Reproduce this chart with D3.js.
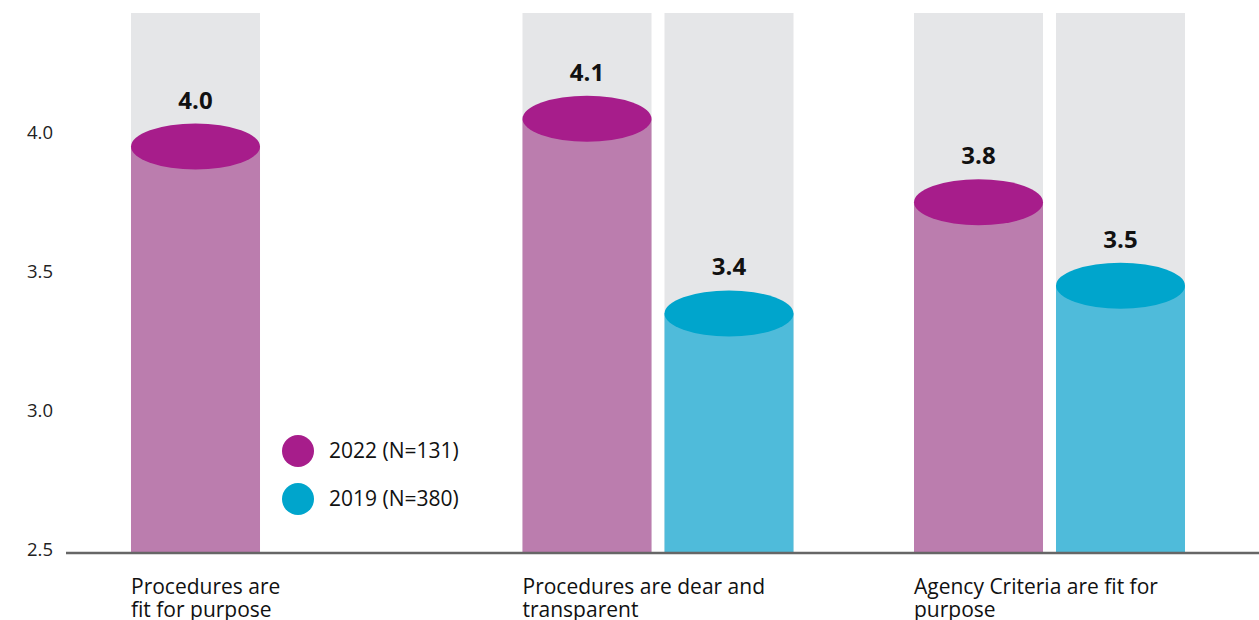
<!DOCTYPE html>
<html>
<head>
<meta charset="utf-8">
<script src="https://cdn.jsdelivr.net/npm/d3@7"></script>
<style>
  html, body { margin: 0; padding: 0; background: #ffffff; }
  svg { display: block; font-family: "Open Sans", "Noto Sans", sans-serif; }
</style>
</head>
<body>
<div id="chart"></div>
<script>
// ---- data ----
const categories = ["Procedures are fit for purpose", "Procedures are dear and transparent", "Agency Criteria are fit for purpose"];
const categoryLines = [["Procedures are", "fit for purpose"], ["Procedures are dear and", "transparent"], ["Agency Criteria are fit for", "purpose"]];
const seriesNames = ["2022 (N=131)", "2019 (N=380)"];
const seriesKeys = ["2022", "2019"];
const values2022 = [3.95, 4.05, 3.75];
const values2019 = [null, 3.35, 3.45];
const labels2022 = ["4.0", "4.1", "3.8"];
const labels2019 = [null, "3.4", "3.5"];
const yTicks = [2.5, 3.0, 3.5, 4.0];
const yMin = 2.5, yMax = 4.43;

// ---- styles ----
const topColors = ["#a71d8b", "#00a5cc"];
const bodyColors = ["#bb7dae", "#4fbbda"];
const bgColor = "#e5e6e8";

const W = 1259, H = 620;
const svg = d3.select("#chart").append("svg").attr("width", W).attr("height", H);

const y = d3.scaleLinear().domain([yMin, yMax]).range([550, 13]);
const axisY = y(yMin) + 3;

const x0 = d3.scaleBand().domain(categories).range([131, 1185]).paddingInner(0.3078).paddingOuter(0);
const x1 = d3.scaleBand().domain(seriesKeys).range([0, x0.bandwidth()]).paddingInner(0.0915).paddingOuter(0);

const rows = [];
categories.forEach((c, i) => {
  [values2022, values2019].forEach((arr, s) => {
    if (arr[i] != null) {
      rows.push({ cat: c, key: seriesKeys[s], s, v: arr[i], label: (s === 0 ? labels2022 : labels2019)[i] });
    }
  });
});

// background columns
svg.append("g").selectAll("rect").data(rows).join("rect")
  .attr("x", d => x0(d.cat) + x1(d.key))
  .attr("y", y(yMax))
  .attr("width", x1.bandwidth())
  .attr("height", axisY - y(yMax))
  .attr("fill", bgColor);

// bar bodies
svg.append("g").selectAll("rect").data(rows).join("rect")
  .attr("x", d => x0(d.cat) + x1(d.key))
  .attr("y", d => y(d.v))
  .attr("width", x1.bandwidth())
  .attr("height", d => axisY - y(d.v))
  .attr("fill", d => bodyColors[d.s]);

// cylinder tops
svg.append("g").selectAll("ellipse").data(rows).join("ellipse")
  .attr("cx", d => x0(d.cat) + x1(d.key) + x1.bandwidth() / 2)
  .attr("cy", d => y(d.v))
  .attr("rx", x1.bandwidth() / 2)
  .attr("ry", 23)
  .attr("fill", d => topColors[d.s]);

// value labels
svg.append("g").selectAll("text").data(rows).join("text")
  .attr("x", d => x0(d.cat) + x1(d.key) + x1.bandwidth() / 2)
  .attr("y", d => y(d.v) - 38)
  .attr("text-anchor", "middle")
  .attr("font-size", 24)
  .attr("font-weight", 700)
  .attr("fill", "#111")
  .text(d => d.label);

// y axis
const yAxis = d3.axisLeft(y).tickValues(yTicks).tickSize(0).tickPadding(7).tickFormat(d3.format(".1f"));
const gy = svg.append("g").attr("transform", "translate(60,0)").call(yAxis);
gy.select(".domain").remove();
gy.selectAll("text").attr("font-size", 18.5).attr("fill", "#222").attr("font-family", "Open Sans, sans-serif");

// baseline
svg.append("line")
  .attr("x1", 66).attr("x2", W)
  .attr("y1", axisY).attr("y2", axisY)
  .attr("stroke", "#666").attr("stroke-width", 2.5);

// category labels
const cl = svg.append("g").selectAll("text").data(categories).join("text")
  .attr("x", d => x0(d))
  .attr("y", 594)
  .attr("font-size", 21)
  .attr("fill", "#111");
cl.each(function(d, i) {
  const t = d3.select(this);
  categoryLines[i].forEach((line, j) => {
    t.append("tspan").attr("x", x0(d)).attr("dy", j === 0 ? 0 : 23).text(line);
  });
});

// legend
const leg = svg.append("g").selectAll("g").data(seriesNames).join("g")
  .attr("transform", (d, i) => `translate(298, ${451 + i * 48})`);
leg.append("circle").attr("r", 16).attr("fill", (d, i) => topColors[i]);
leg.append("text").attr("x", 31).attr("dy", "0.35em")
  .attr("font-size", 21).attr("fill", "#111").text(d => d);
</script>
</body>
</html>
